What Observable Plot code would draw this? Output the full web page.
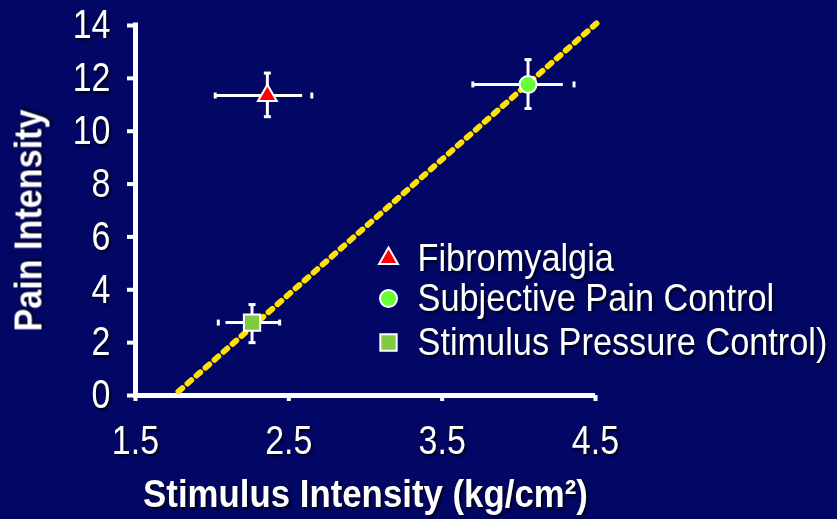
<!DOCTYPE html>
<html><head><meta charset="utf-8">
<script src="https://cdn.jsdelivr.net/npm/d3@7"></script>
<script src="https://cdn.jsdelivr.net/npm/@observablehq/plot@0.6"></script>
<style>
html,body{margin:0;padding:0;background:#020664;}
#chart svg{display:block;}
#chart svg text{filter:drop-shadow(2px 2px 1px rgba(0,0,0,0.75));}
</style></head><body><div id="chart"></div>
<script>
const groups = ["Fibromyalgia", "Subjective Pain Control", "Stimulus Pressure Control)"];
const stimulus = [2.36, 4.06, 2.26];
const pain = [11.35, 11.77, 2.76];
const painLow = [10.55, 10.86, 2.0];
const painHigh = [12.2, 12.71, 3.44];
const stimCapLow = [2.02, 3.70, 2.04];
const stimCapHigh = [2.65, 4.36, 2.44];
const stimBarLow = [2.02, 3.70, 2.09];
const stimBarHigh = [2.59, 4.29, 2.44];
const symbols = ["triangle", "circle", "square"];
const fills = ["#ff0000", "#66ff33", "#80cc40"];
const xTicks = [1.5, 2.5, 3.5, 4.5];
const yTicks = [0, 2, 4, 6, 8, 10, 12, 14];
const fitX = [1.78, 4.53];
const fitY = [0.15, 14.2];
const xLabel = "Stimulus Intensity (kg/cm²)";
const yLabel = "Pain Intensity";

const data = groups.map((g, i) => ({
  group: g, x: stimulus[i], y: pain[i], ylo: painLow[i], yhi: painHigh[i],
  cxl: stimCapLow[i], cxh: stimCapHigh[i], bxl: stimBarLow[i], bxh: stimBarHigh[i],
  symbol: symbols[i], fill: fills[i]
}));
const fit = fitX.map((x, i) => ({x, y: fitY[i]}));

const markR = {triangle: 7, circle: 8.5, square: 9.2};
const hCap = {draw(ctx) { ctx.rect(-3.5, -1.5, 7, 3); }};
const vCap = {draw(ctx) { ctx.rect(-1.5, -3, 3, 6); }};
const FONT = "'Liberation Sans', Arial, sans-serif";

const legendRows = [233, 273, 317];

const marks = [
  Plot.ruleY([0], {x1: 1.5, x2: 4.5, stroke: "white", strokeWidth: 5}),
  Plot.ruleX([1.5], {y1: 0, y2: 14, stroke: "white", strokeWidth: 5, strokeLinecap: "square"}),
  Plot.axisY(yTicks, {tickSize: 8, tickPadding: 17, strokeWidth: 4, fontSize: 40, tickFormat: d => String(d), label: null}),
  Plot.axisX(xTicks, {tickSize: 6, tickPadding: 24, strokeWidth: 4, fontSize: 40, tickFormat: d => d.toFixed(1), label: null}),
  Plot.line(fit, {x: "x", y: "y", stroke: "#ffe200", strokeWidth: 5.8, strokeDasharray: "5.2,6.8"}),
  Plot.ruleX(data, {x: "x", y1: "ylo", y2: "yhi", stroke: "white", strokeWidth: 3}),
  Plot.ruleY(data, {y: "y", x1: "bxl", x2: "bxh", stroke: "white", strokeWidth: 3}),
  Plot.dot(data, {x: "x", y: "ylo", symbol: hCap, fill: "white", stroke: null, r: 3}),
  Plot.dot(data, {x: "x", y: "yhi", symbol: hCap, fill: "white", stroke: null, r: 3}),
  Plot.dot(data, {x: "cxl", y: "y", symbol: vCap, fill: "white", stroke: null, r: 3}),
  Plot.dot(data, {x: "cxh", y: "y", symbol: vCap, fill: "white", stroke: null, r: 3}),
  ...data.map(d => Plot.dot([d], {x: "x", y: "y", symbol: d.symbol, fill: d.fill, stroke: "white", strokeWidth: 2, r: markR[d.symbol]})),
  ...data.map((d, i) => Plot.dot([d], {frameAnchor: "top-left", dx: 253, dy: legendRows[i], symbol: d.symbol, fill: d.fill, stroke: "white", strokeWidth: 2, r: markR[d.symbol]})),
  ...data.map((d, i) => Plot.text([d.group], {frameAnchor: "top-left", dx: 282, dy: legendRows[i], text: t => t, textAnchor: "start", lineAnchor: "middle", fontSize: 39, fill: "white", className: "legtext"})),
  Plot.text([xLabel], {frameAnchor: "bottom", dy: 99, text: t => t, fontSize: 39, fontWeight: "bold", fill: "white", lineAnchor: "middle", textAnchor: "middle", className: "xtitle"}),
  Plot.text([yLabel], {frameAnchor: "left", dx: -106, dy: 10, rotate: -90, text: t => t, fontSize: 39, fontWeight: "bold", fill: "white", lineAnchor: "middle", textAnchor: "middle", className: "ytitle"})
];

const chart = Plot.plot({
  width: 837, height: 519,
  marginLeft: 135, marginRight: 242, marginTop: 25, marginBottom: 124,
  style: {background: "#020664", color: "white", fontFamily: FONT, overflow: "visible"},
  x: {domain: [1.5, 4.5]},
  y: {domain: [0, 14]},
  marks
});
document.getElementById("chart").append(chart);

// condense glyphs horizontally (about each text's anchor point) like the reference's narrow lettering
function condense(sel, factor, target) {
  chart.querySelectorAll(sel).forEach(t => {
    const w = t.getComputedTextLength();
    const s = target != null ? target / w : factor;
    const ax = parseFloat(t.getAttribute("x")) || 0;
    const prev = t.getAttribute("transform") || "";
    t.setAttribute("transform", `${prev} translate(${ax},0) scale(${s},1) translate(${-ax},0)`.trim());
  });
}
condense("g[aria-label='y-axis tick label'] text", 0.85);
condense("g[aria-label='x-axis tick label'] text", 0.85);
condense(".legtext text", 0.88);
condense(".xtitle text", null, 445);
condense(".ytitle text", null, 222);
</script></body></html>
